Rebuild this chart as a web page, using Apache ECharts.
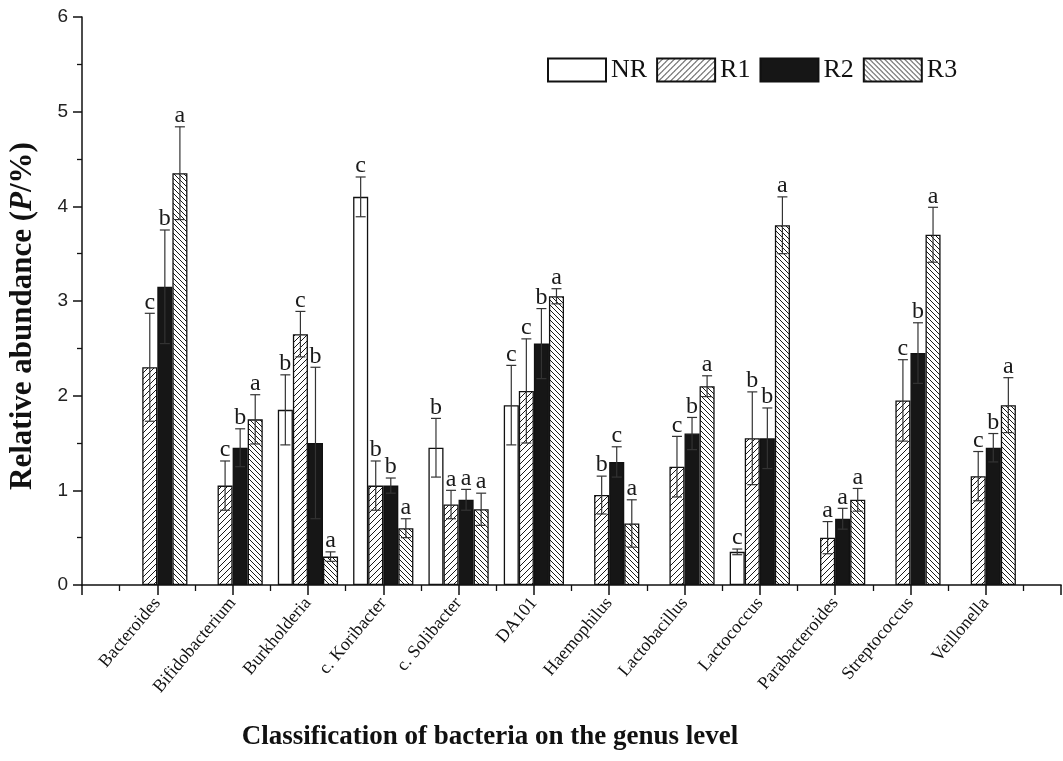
<!DOCTYPE html>
<html><head><meta charset="utf-8">
<script src="https://cdn.jsdelivr.net/npm/echarts@6/dist/echarts.min.js"></script>
<style>html,body{margin:0;padding:0;background:#fff}#c{width:1063px;height:761px}</style>
</head><body><div id="c"></div>
<script>
// ---------- data ----------
const categories = ['Bacteroides','Bifidobacterium','Burkholderia','c. Koribacter','c. Solibacter','DA101','Haemophilus','Lactobacillus','Lactococcus','Parabacteroides','Streptococcus','Veillonella'];
const seriesNames = ['NR','R1','R2','R3'];

const NR     = [null, null, 1.85, 4.10, 1.45, 1.90, null, null, 0.35, null, null, null];
const NR_err = [null, null, 0.37, 0.21, 0.31, 0.42, null, null, 0.03, null, null, null];
const NR_sig = ['',   '',   'b',  'c',  'b',  'c',  '',   '',   'c',  '',   '',   ''];

const R1     = [2.30, 1.05, 2.65, 1.05, 0.85, 2.05, 0.95, 1.25, 1.55, 0.50, 1.95, 1.15];
const R1_err = [0.57, 0.26, 0.24, 0.26, 0.15, 0.55, 0.20, 0.32, 0.49, 0.17, 0.43, 0.26];
const R1_sig = ['c',  'c',  'c',  'b',  'a',  'c',  'b',  'c',  'b',  'a',  'c',  'c'];

const R2     = [3.15, 1.45, 1.50, 1.05, 0.90, 2.55, 1.30, 1.60, 1.55, 0.70, 2.45, 1.45];
const R2_err = [0.60, 0.20, 0.80, 0.08, 0.11, 0.37, 0.16, 0.17, 0.32, 0.11, 0.32, 0.15];
const R2_sig = ['b',  'b',  'b',  'b',  'a',  'b',  'c',  'b',  'b',  'a',  'b',  'b'];

const R3     = [4.35, 1.75, 0.30, 0.60, 0.80, 3.05, 0.65, 2.10, 3.80, 0.90, 3.70, 1.90];
const R3_err = [0.49, 0.26, 0.05, 0.10, 0.17, 0.08, 0.25, 0.11, 0.30, 0.12, 0.29, 0.29];
const R3_sig = ['a',  'a',  'a',  'a',  'a',  'a',  'a',  'a',  'a',  'a',  'a',  'a'];

const yTickLabels = [0, 1, 2, 3, 4, 5, 6];

// ---------- styling helpers ----------
function hatch(dir, size) {
  const c = document.createElement('canvas');
  c.width = size; c.height = size;
  const g = c.getContext('2d');
  g.fillStyle = '#ffffff'; g.fillRect(0, 0, size, size);
  g.strokeStyle = '#1a1a1a'; g.lineWidth = 1;
  g.beginPath();
  if (dir > 0) {
    g.moveTo(-1, size + 1); g.lineTo(size + 1, -1);
    g.moveTo(-1, 1); g.lineTo(1, -1);
    g.moveTo(size - 1, size + 1); g.lineTo(size + 1, size - 1);
  } else {
    g.moveTo(-1, -1); g.lineTo(size + 1, size + 1);
    g.moveTo(size - 1, -1); g.lineTo(size + 1, 1);
    g.moveTo(-1, size - 1); g.lineTo(1, size + 1);
  }
  g.stroke();
  return c;
}

const values = [NR, R1, R2, R3];
const errs = [NR_err, R1_err, R2_err, R3_err];
const sigs = [NR_sig, R1_sig, R2_sig, R3_sig];
const fills = ['#ffffff', {image: hatch(1, 6), repeat: 'repeat'}, '#161616', {image: hatch(-1, 5), repeat: 'repeat'}];

const series = [];
values.forEach((arr, k) => {
  const data = [];
  arr.forEach((v, i) => { if (v != null) data.push([i + 1, v]); });
  series.push({
    type: 'bar', name: seriesNames[k], data,
    barWidth: '20%', barGap: '0%',
    itemStyle: {color: fills[k], borderColor: '#111', borderWidth: 1.3},
    z: 2, silent: true
  });
});
values.forEach((arr, k) => {
  const data = [];
  arr.forEach((v, i) => { if (v != null) data.push([i + 1, v, errs[k][i], i]); });
  series.push({
    type: 'custom', silent: true, z: 5, data,
    encode: {x: 0, y: 1},
    renderItem(params, api) {
      const x = api.value(0) + (k - 1.5) * 0.2;
      const v = api.value(1), e = api.value(2), i = api.value(3);
      const top = api.coord([x, v + e]);
      const bot = api.coord([x, Math.max(0, v - e)]);
      const cap = 5;
      const ls = {stroke: '#333', lineWidth: 1.2};
      return {type: 'group', children: [
        {type: 'line', shape: {x1: top[0], y1: top[1], x2: bot[0], y2: bot[1]}, style: ls},
        {type: 'line', shape: {x1: top[0] - cap, y1: top[1], x2: top[0] + cap, y2: top[1]}, style: ls},
        {type: 'line', shape: {x1: bot[0] - cap, y1: bot[1], x2: bot[0] + cap, y2: bot[1]}, style: ls},
        {type: 'text', x: top[0], y: top[1] + 1, style: {text: sigs[k][i], fontFamily: 'Liberation Serif', fontSize: 24, fill: '#1a1a1a', align: 'center', verticalAlign: 'bottom'}}
      ]};
    }
  });
});

const axisLineStyle = {color: '#111', width: 1.5};
const chart = echarts.init(document.getElementById('c'), null, {renderer: 'canvas'});
chart.setOption({
  animation: false,
  backgroundColor: '#ffffff',
  grid: {left: 82, right: -3, top: 17, bottom: 176, containLabel: false},
  legend: {
    data: seriesNames, left: 542, top: 52, itemWidth: 58, itemHeight: 23, itemGap: 9,
    icon: 'rect', selectedMode: false,
    textStyle: {fontFamily: 'Liberation Serif', fontSize: 26, color: '#111'}
  },
  xAxis: {
    type: 'value', min: 0, max: 13, interval: 1,
    axisLine: {show: true, onZero: false, lineStyle: axisLineStyle},
    axisTick: {show: true, length: 10, lineStyle: axisLineStyle},
    minorTick: {show: true, splitNumber: 2, length: 6, lineStyle: {color: '#111', width: 1.3}},
    splitLine: {show: false}, minorSplitLine: {show: false},
    axisLabel: {
      rotate: 50, margin: 15, fontFamily: 'Liberation Serif', fontSize: 18, color: '#111',
      formatter: v => (Number.isInteger(v) && v >= 1 && v <= categories.length) ? categories[v - 1] : ''
    }
  },
  yAxis: {
    type: 'value', min: 0, max: 6, interval: 1,
    axisLine: {show: true, lineStyle: axisLineStyle},
    axisTick: {show: true, length: 9, lineStyle: axisLineStyle},
    minorTick: {show: true, splitNumber: 2, length: 5, lineStyle: {color: '#111', width: 1.3}},
    splitLine: {show: false}, minorSplitLine: {show: false},
    axisLabel: {
      fontFamily: 'Liberation Sans', fontSize: 19, color: '#222', margin: 14,
      formatter: v => yTickLabels.includes(v) ? String(v) : ''
    }
  },
  graphic: [
    {type: 'text', x: 23, y: 316, rotation: Math.PI / 2,
     style: {text: '{b|Relative abundance (}{i|P}{b|/%)}', align: 'center', verticalAlign: 'middle',
       rich: {
         b: {fontFamily: 'Liberation Serif', fontWeight: 'bold', fontSize: 31, fill: '#111'},
         i: {fontFamily: 'Liberation Serif', fontWeight: 'bold', fontStyle: 'italic', fontSize: 31, fill: '#111'}
       }}},
    {type: 'text', x: 490, y: 737,
     style: {text: 'Classification of bacteria on the genus level', align: 'center', verticalAlign: 'middle',
       fontFamily: 'Liberation Serif', fontWeight: 'bold', fontSize: 27, fill: '#111'}}
  ],
  series
});
</script>
</body></html>
